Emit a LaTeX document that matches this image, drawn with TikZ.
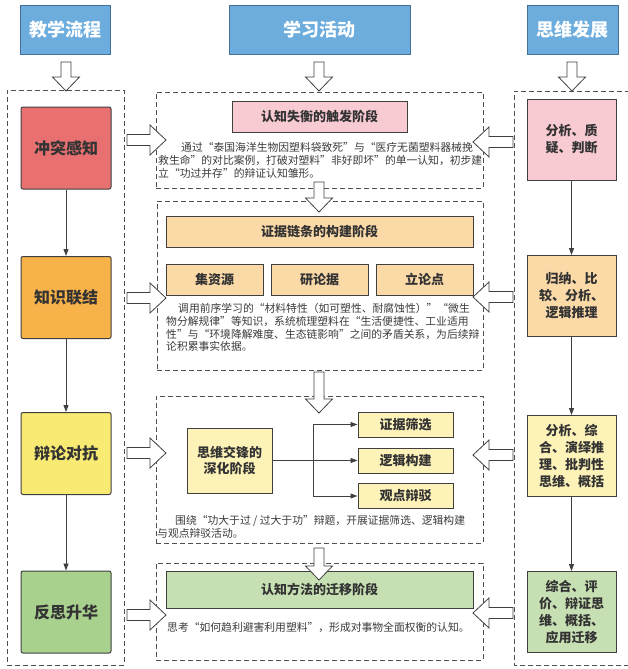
\documentclass[tikz,border=0pt]{standalone}
\usepackage{fontspec}
\setmainfont{Noto Sans CJK SC}
\usetikzlibrary{arrows.meta}
\definecolor{hdrblue}{HTML}{6CADDE}
\definecolor{hdrborder}{HTML}{41719C}
\definecolor{bordc}{HTML}{404040}
\definecolor{txt}{HTML}{333333}
\definecolor{bodyc}{HTML}{3A3A3A}
\definecolor{dashc}{HTML}{505050}
\definecolor{arrc}{HTML}{404040}
\definecolor{connc}{HTML}{404040}
\definecolor{cred}{HTML}{E87070}
\definecolor{corange}{HTML}{F8B24A}
\definecolor{cyellow}{HTML}{F8EA72}
\definecolor{cgreen}{HTML}{A9D18E}
\definecolor{lpink}{HTML}{F8CBD3}
\definecolor{lorange}{HTML}{FCDAA8}
\definecolor{lyellow}{HTML}{FDF2B8}
\definecolor{lgreen}{HTML}{C7E0B3}
\newcommand\ArrR[3]{\draw[blk] (#1,#3-5.5) -- (#2-16,#3-5.5) -- (#2-16,#3-15) -- (#2,#3) -- (#2-16,#3+15) -- (#2-16,#3+5.5) -- (#1,#3+5.5) -- cycle;}
\newcommand\ArrL[3]{\draw[blk] (#1,#3-5.5) -- (#2+16,#3-5.5) -- (#2+16,#3-15) -- (#2,#3) -- (#2+16,#3+15) -- (#2+16,#3+5.5) -- (#1,#3+5.5) -- cycle;}
\newcommand\ArrD[3]{\draw[blk] (#1-5,#2) -- (#1-5,#3-14) -- (#1-13.5,#3-14) -- (#1,#3) -- (#1+13.5,#3-14) -- (#1+5,#3-14) -- (#1+5,#2) -- cycle;}
\begin{document}
\begin{tikzpicture}[x=1pt,y=-1pt,
 hdr/.style={draw=hdrborder, fill=hdrblue, line width=0.8pt, text=white, font=\fontsize{18}{20}\selectfont\bfseries, inner sep=0pt},
 lbox/.style={draw=bordc, line width=1pt, rounded corners=2pt, minimum width=90pt, minimum height=82pt, font=\fontsize{16}{19}\selectfont\bfseries, text=txt, inner sep=0pt},
 rbox/.style={draw=bordc, line width=1pt, minimum width=89pt, minimum height=81pt, font=\fontsize{13}{17}\selectfont\bfseries, text=txt, align=center, inner sep=0pt},
 tbox/.style={draw=bordc, line width=1pt, font=\fontsize{13}{16}\selectfont\bfseries, text=txt, inner sep=0pt, align=center},
 dbox/.style={draw=dashc, dashed, dash pattern=on 5pt off 3pt, line width=0.9pt, inner sep=0pt},
 body/.style={font=\fontsize{10.8}{12.8}\selectfont, text=bodyc, align=left, inner sep=0pt, anchor=west},
 blk/.style={draw=arrc, fill=white, line width=0.8pt, line join=miter},
 conn/.style={draw=connc, line width=0.9pt, -{Triangle[length=7pt,width=5pt]}},
 plain/.style={draw=connc, line width=0.9pt}]
\useasboundingbox (0,0) rectangle (627,669);
% headers
\node[hdr, minimum width=90pt, minimum height=49pt] (h1) at (65,29.5) {教学流程};
\node[hdr, minimum width=181pt, minimum height=49pt] (h2) at (319.5,29.5) {学习活动};
\node[hdr, minimum width=91pt, minimum height=49pt] (h3) at (572.5,29.5) {思维发展};
% containers
\node[dbox, minimum width=117pt, minimum height=575pt] (lc) at (65.5,377.5) {};
\draw[dbox] (630,91) -- (514,91) -- (514,665) -- (630,665);
\node[dbox, minimum width=327pt, minimum height=96pt] (c1) at (319.5,140) {};
\node[dbox, minimum width=326pt, minimum height=169pt] (c2) at (320,285.5) {};
\node[dbox, minimum width=327pt, minimum height=147pt] (c3) at (319.5,469.5) {};
\node[dbox, minimum width=327pt, minimum height=97pt] (c4) at (319.5,611.5) {};
% left column
\node[lbox, fill=cred] (L1) at (66,148) {冲突感知};
\node[lbox, fill=corange] (L2) at (66,297.5) {知识联结};
\node[lbox, fill=cyellow] (L3) at (66,453.5) {辩论对抗};
\node[lbox, fill=cgreen] (L4) at (66,612) {反思升华};
\draw[conn] (L1) -- (L2);
\draw[conn] (L2) -- (L3);
\draw[conn] (L3) -- (L4);
% right column
\node[rbox, fill=lpink] (R1) at (571.5,139.5) {分析、质\\疑、判断};
\node[rbox, fill=lorange] (R2) at (571.5,296) {归纳、比\\较、分析、\\逻辑推理};
\node[rbox, fill=lyellow] (R3) at (571.5,456) {分析、综\\合、演绎推\\理、批判性\\思维、概括};
\node[rbox, fill=lgreen] (R4) at (571.5,612) {综合、评\\价、辩证思\\维、概括、\\应用迁移};
\draw[conn] (R1) -- (R2);
\draw[conn] (R2) -- (R3);
\draw[conn] (R3) -- (R4);
% middle 1
\node[tbox, fill=lpink, minimum width=175pt, minimum height=31pt] (t1) at (319.5,116.5) {认知失衡的触发阶段};
\node[body] (x1) at (158,160.5) {\hspace*{23pt}通过“泰国海洋生物因塑料袋致死”与“医疗无菌塑料器械挽\\救生命”的对比案例，打破对塑料"非好即坏"的单一认知，初步建\\立“功过并存”的辩证认知雏形。};
% middle 2
\node[tbox, fill=lorange, minimum width=307pt, minimum height=31pt] (t2) at (319.5,231.5) {证据链条的构建阶段};
\node[tbox, fill=lorange, minimum width=97pt, minimum height=31pt] (a1) at (214.5,279.5) {集资源};
\node[tbox, fill=lorange, minimum width=97pt, minimum height=31pt] (a2) at (319.5,279.5) {研论据};
\node[tbox, fill=lorange, minimum width=97pt, minimum height=31pt] (a3) at (424.5,279.5) {立论点};
\node[body] (x2) at (166,327.5) {\hspace*{12pt}调用前序学习的“材料特性（如可塑性、耐腐蚀性）”“微生\\物分解规律”等知识，系统梳理塑料在“生活便捷性、工业适用\\性”与“环境降解难度、生态链影响”之间的矛盾关系，为后续辩\\论积累事实依据。};
% middle 3
\node[tbox, fill=lyellow, minimum width=85pt, minimum height=65pt] (deep) at (229.5,460.5) {思维交锋的\\深化阶段};
\node[tbox, fill=lyellow, minimum width=95pt, minimum height=25pt] (s1) at (405.5,424.5) {证据筛选};
\node[tbox, fill=lyellow, minimum width=95pt, minimum height=25pt] (s2) at (405.5,460.5) {逻辑构建};
\node[tbox, fill=lyellow, minimum width=95pt, minimum height=25pt] (s3) at (405.5,496) {观点辩驳};
\coordinate (br) at (313,460.5);
\draw[plain] (deep.east) -- (br);
\draw[conn] (br) -- (s2.west);
\draw[conn] (br) |- (s1.west);
\draw[conn] (br) |- (s3.west);
\node[body] (x3) at (157,526.5) {\hspace*{18pt}围绕“功大于过 / 过大于功”辩题，开展证据筛选、逻辑构建\\与观点辩驳活动。};
% middle 4
\node[tbox, fill=lgreen, minimum width=307pt, minimum height=37pt] (t4) at (319.5,589.5) {认知方法的迁移阶段};
\node[body] (x4) at (167,627) {思考“如何趋利避害利用塑料”，形成对事物全面权衡的认知。};
% block arrows
\ArrD{66}{62}{91}
\ArrD{319}{62}{91}
\ArrD{572}{62}{91}
\ArrD{319}{182}{212}
\ArrD{319}{372}{413}
\ArrD{319}{548}{580}
\ArrR{127}{166}{140}
\ArrR{127}{166}{298}
\ArrR{127}{166}{453}
\ArrR{127}{166}{615}
\ArrL{513}{473}{142}
\ArrL{513}{473}{297}
\ArrL{513}{473}{455}
\ArrL{513}{473}{613}
\end{tikzpicture}
\end{document}
